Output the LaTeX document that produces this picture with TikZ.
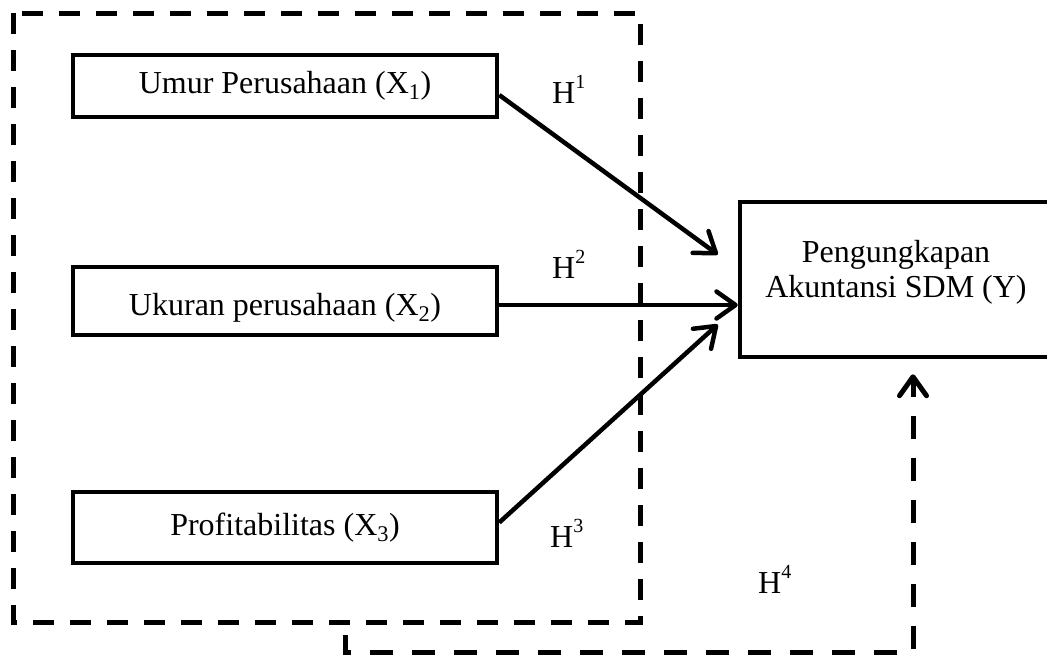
\documentclass[tikz,border=0pt]{standalone}
\usepackage{fontspec}
\setmainfont{Liberation Serif}
\usetikzlibrary{arrows.meta,calc}
\newcommand{\hsup}[1]{\raisebox{15pt}{\fontsize{20}{20}\selectfont #1}}
\begin{document}
\begin{tikzpicture}[x=1pt,y=-1pt,
  >={Straight Barb[length=19pt,width=27pt,line cap=round,line join=round]},
  every node/.style={font=\fontsize{32}{35}\selectfont, inner sep=0pt},
  varbox/.style={draw, line width=4.5pt, minimum width=424pt},
  ybox/.style={draw, line width=4.5pt, minimum width=312pt, minimum height=155pt},
  link/.style={line width=4.5pt, ->},
  dashline/.style={line width=5pt, dash pattern=on 21pt off 16pt},
  dashlong/.style={line width=5pt, dash pattern=on 23pt off 19pt},
  hlab/.style={anchor=base west}]
\useasboundingbox (0,0) rectangle (1047,654);
% outer dashed frame
\draw[dashline] (13,13) rectangle (640,622);
% boxes
\node[varbox, minimum height=62pt] (b1) at (285,86) {Umur Perusahaan (X\textsubscript{1})};
\node[varbox, minimum height=68pt, text height=28pt, text depth=0pt] (b2) at (285,301) {Ukuran perusahaan (X\textsubscript{2})};
\node[varbox, minimum height=71pt] (b3) at (285,527.5) {Profitabilitas (X\textsubscript{3})};
\node[ybox] (y) at (896,279.5) {};
\node[align=center] (ytext) at (896,272) {Pengungkapan\\Akuntansi SDM (Y)};
% connectors
\coordinate (t1) at ($(y.west)+(-20,-25)$);
\coordinate (t3) at ($(y.west)+(-20,45)$);
\draw[link] ($(b1.east)+(0,9)$) -- (t1);
\draw[link] (b2.east |- 0,305) -- (y.west |- 0,305);
\draw[link] ($(b3.east)+(0,-5)$) -- (t3);
% moderating dashed path
\coordinate (m0) at (345,635);
\coordinate (m1) at (345,652);
\coordinate (m2) at (913,652);
\coordinate (m3) at ($(y.south)+(17,15)$);
\draw[dashlong, ->] (m0) -- (m1) -- (m2) -- (m2 |- m3);
% labels
\node[hlab] (h1) at (552,103) {H\hsup{1}};
\node[hlab] (h2) at (552,278) {H\hsup{2}};
\node[hlab] (h3) at (550,547) {H\hsup{3}};
\node[hlab] (h4) at (758,593) {H\hsup{4}};
\end{tikzpicture}
\end{document}
